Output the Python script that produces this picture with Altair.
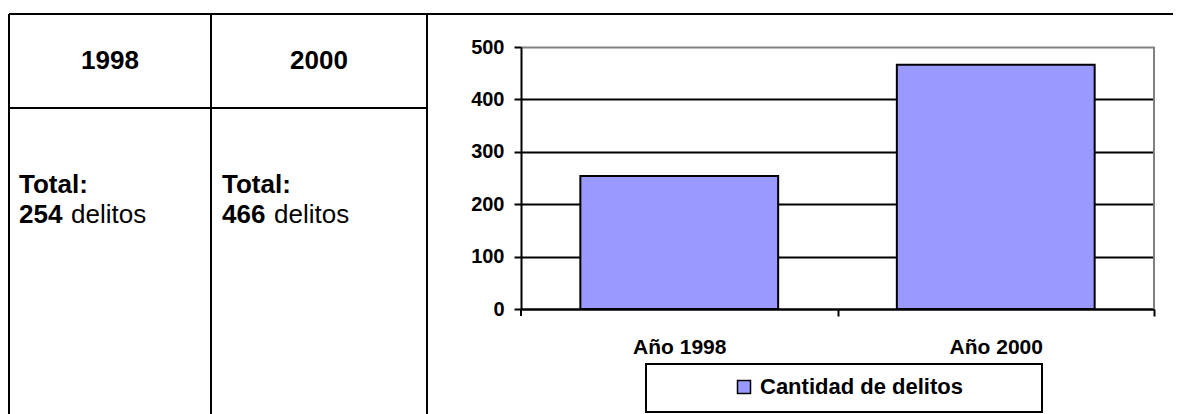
import altair as alt
import pandas as pd

# ---- data ----
categorias = ["Año 1998", "Año 2000"]
delitos = [254, 466]
serie = "Cantidad de delitos"
anios = ["1998", "2000"]
ticks_y = [0, 100, 200, 300, 400, 500]

df = pd.DataFrame({"categoria": categorias, "delitos": delitos, "serie": [serie] * len(categorias)})
tabla = pd.DataFrame({"anio": anios, "total": [str(v) for v in delitos], "rotulo": ["Total:"] * len(anios),
                      "unidad": ["delitos"] * len(anios)})

FONT = "Liberation Sans"
OX, OY = 521, 47  # page position of plot origin
W, H = 633, 262


def px(x):
    return x - OX


def py(y):
    return y - OY


# ---- bar chart ----
bars = alt.Chart(df).mark_bar(stroke="black", strokeWidth=2).encode(
    x=alt.X("categoria:N", sort=categorias, title=None,
            scale=alt.Scale(paddingInner=0.375, paddingOuter=0.1875),
            axis=alt.Axis(tickOffset=W / 4, labelOffset=-W / 4, labelAngle=0, labelFont=FONT,
                          labelFontSize=21, labelFontWeight="bold", labelColor="black", labelPadding=20,
                          tickSize=7, tickWidth=2, tickColor="black", domainColor="black",
                          domainWidth=2, grid=False)),
    y=alt.Y("delitos:Q", title=None, scale=alt.Scale(domain=[0, 500], nice=False),
            axis=alt.Axis(values=ticks_y, labelFont=FONT, labelFontSize=20, labelFontWeight="bold",
                          labelColor="black", labelPadding=10, tickSize=7, tickWidth=2,
                          tickColor="black", domainColor="black", domainWidth=2, grid=True,
                          gridColor={"condition": {"test": "datum.value === 500", "value": "#808080"},
                                     "value": "black"},
                          gridWidth=2)),
    color=alt.Color("serie:N", scale=alt.Scale(domain=[serie], range=["#9999FF"]),
                    legend=alt.Legend(title=None, orient="none", legendX=px(733), legendY=py(376),
                                      symbolType="square", symbolSize=169, symbolStrokeColor="black",
                                      symbolStrokeWidth=1.5, labelFont=FONT, labelFontSize=22,
                                      labelFontWeight="bold", labelColor="black", labelOffset=5,
                                      labelLimit=0, padding=0)),
)

one = pd.DataFrame({"a": [0]})

# first x tick (at the axis origin) and grey right border of the plot
first_tick = alt.Chart(one).mark_rule(color="black", strokeWidth=2).encode(
    x=alt.value(0), y=alt.value(H), y2=alt.value(H + 7))
right_border = alt.Chart(one).mark_rule(color="#808080", strokeWidth=2).encode(
    x=alt.value(W), y=alt.value(0), y2=alt.value(H))

legend_box = alt.Chart(one).mark_rect(fill="white", stroke="black", strokeWidth=2).encode(
    x=alt.value(px(646)), x2=alt.value(px(1042)), y=alt.value(py(364)), y2=alt.value(py(412)))


# ---- table frame ----
def hline(x1, x2, y):
    return alt.Chart(one).mark_rule(color="black", strokeWidth=2).encode(
        x=alt.value(px(x1)), x2=alt.value(px(x2)), y=alt.value(py(y)))


def vline(x, y1, y2):
    return alt.Chart(one).mark_rule(color="black", strokeWidth=2).encode(
        x=alt.value(px(x)), y=alt.value(py(y1)), y2=alt.value(py(y2)))


frame = [
    hline(9, 1173, 14),
    hline(9, 427, 108),
    vline(9, 14, 414),
    vline(211, 14, 414),
    vline(427, 14, 414),
]

col_center = [110, 319]
col_left = [19, 222]
unit_left = [71, 274]

texts = []
for i, a in enumerate(anios):
    base = alt.Chart(tabla).transform_filter(alt.datum.anio == a)
    texts.append(base.mark_text(font=FONT, fontSize=26, fontWeight="bold", align="center",
                                baseline="alphabetic", color="black").encode(
        text="anio:N", x=alt.value(px(col_center[i])), y=alt.value(py(69))))
    texts.append(base.mark_text(font=FONT, fontSize=26, fontWeight="bold", align="left",
                                baseline="alphabetic", color="black").encode(
        text="rotulo:N", x=alt.value(px(col_left[i])), y=alt.value(py(193))))
    texts.append(base.mark_text(font=FONT, fontSize=26, fontWeight="bold", align="left",
                                baseline="alphabetic", color="black").encode(
        text="total:N", x=alt.value(px(col_left[i])), y=alt.value(py(223))))
    texts.append(base.mark_text(font=FONT, fontSize=26, fontWeight="normal", align="left",
                                baseline="alphabetic", color="black").encode(
        text="unidad:N", x=alt.value(px(unit_left[i])), y=alt.value(py(223))))

chart = alt.layer(*frame, legend_box, right_border, first_tick, bars, *texts).properties(
    width=W, height=H,
    padding={"left": 513, "top": 39, "right": 19, "bottom": 105},
    autosize=alt.AutoSizeParams(type="none"),
).configure_view(stroke="#808080", strokeWidth=2).configure(background="white")

chart.save("out.html", embed_options={"renderer": "svg", "actions": False})
